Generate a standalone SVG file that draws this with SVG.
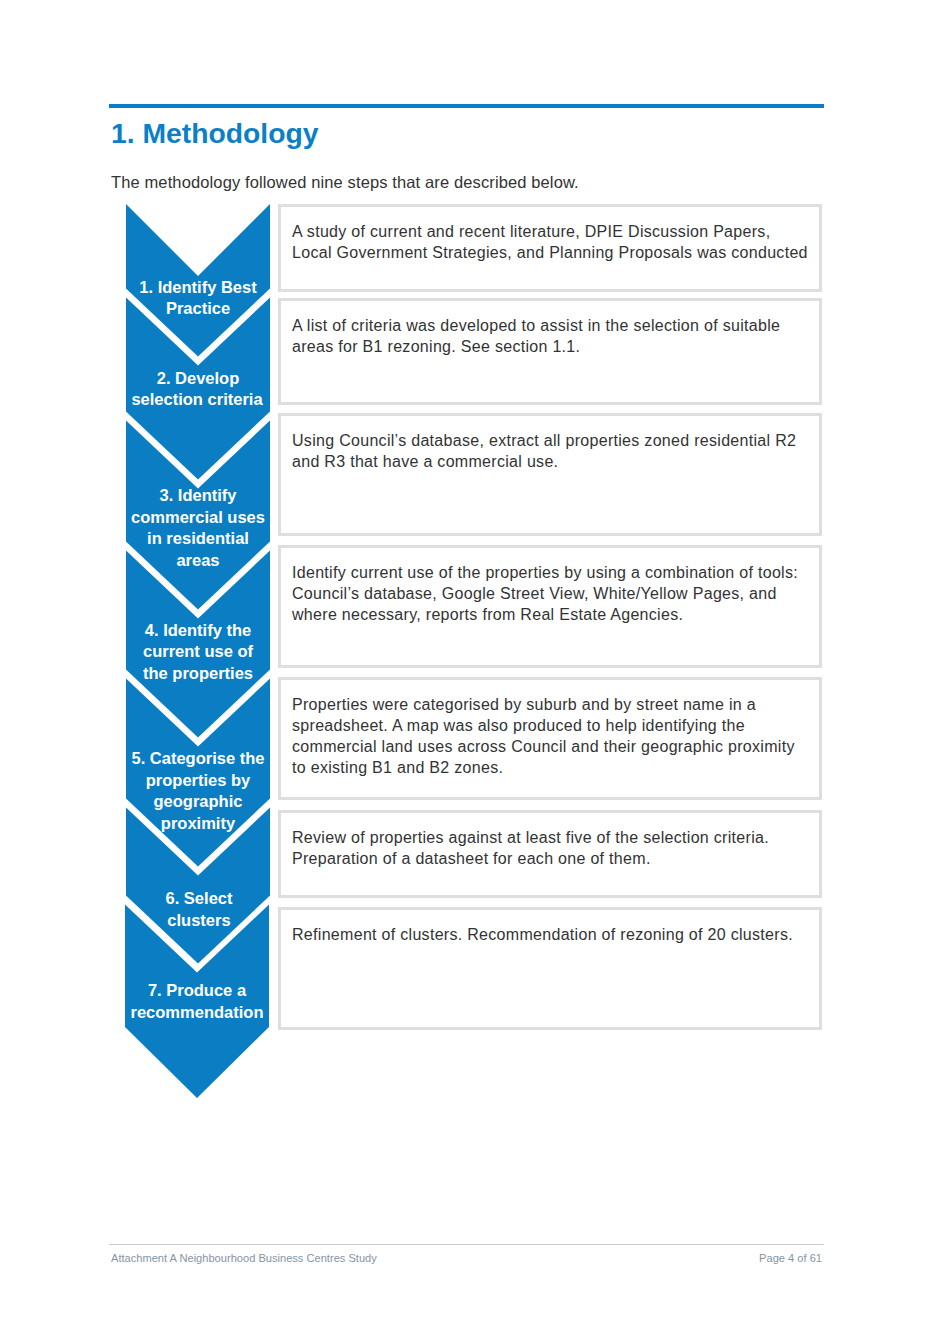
<svg xmlns="http://www.w3.org/2000/svg" width="933" height="1319" viewBox="0 0 933 1319">
<style>
.chev{fill:#0a7dc3}
.lbl{font-family:"Liberation Sans",Arial,sans-serif;font-weight:bold;font-size:16.5px;fill:#ffffff;text-anchor:middle}
.box{fill:#ffffff;stroke:#dedede;stroke-width:3}
.txt{font-family:"Liberation Sans",Arial,sans-serif;font-size:16px;letter-spacing:0.3px;fill:#333333}
.foot{font-family:"Liberation Sans",Arial,sans-serif;font-size:11.1px;fill:#8595a5}
</style>
<rect width="933" height="1319" fill="#ffffff"/>
<rect x="109" y="104" width="715" height="4" fill="#0a7dc8"/>
<text x="111" y="143" font-family="'Liberation Sans',Arial,sans-serif" font-weight="bold" font-size="28.3" fill="#0b7fc7">1. Methodology</text>
<text x="111" y="188" font-family="'Liberation Sans',Arial,sans-serif" font-size="16.5" letter-spacing="0.12" fill="#333333">The methodology followed nine steps that are described below.</text>

<g id="step1">
<polygon class="chev" points="126,204 198,276 270,204 270,288.5 198,356.5 126,288.5"/>
<text class="lbl" x="198" y="293">1. Identify Best</text>
<text class="lbl" x="198" y="314">Practice</text>
</g>
<g id="step2">
<polygon class="chev" points="126,297.5 198,365.5 270,297.5 270,411.5 198,479.5 126,411.5"/>
<text class="lbl" x="198" y="384">2. Develop</text>
<text class="lbl" x="197" y="405">selection criteria</text>
</g>
<g id="step3">
<polygon class="chev" points="126,420.5 198,488.5 270,420.5 270,541.5 198,609.5 126,541.5"/>
<text class="lbl" x="198" y="501">3. Identify</text>
<text class="lbl" x="198" y="523">commercial uses</text>
<text class="lbl" x="198" y="544">in residential</text>
<text class="lbl" x="198" y="566">areas</text>
</g>
<g id="step4">
<polygon class="chev" points="126,550.5 198,618.5 270,550.5 270,669.5 198,737.5 126,669.5"/>
<text class="lbl" x="198" y="636">4. Identify the</text>
<text class="lbl" x="198" y="657">current use of</text>
<text class="lbl" x="198" y="679">the properties</text>
</g>
<g id="step5">
<polygon class="chev" points="126,678.5 198,746.5 270,678.5 270,798.5 198,866.5 126,798.5"/>
<text class="lbl" x="198" y="764">5. Categorise the</text>
<text class="lbl" x="198" y="786">properties by</text>
<text class="lbl" x="198" y="807">geographic</text>
<text class="lbl" x="198" y="829">proximity</text>
</g>
<g id="step6">
<polygon class="chev" points="126,807.5 198,875.5 270,807.5 270,895.5 198,963.5 126,895.5"/>
<text class="lbl" x="199" y="904">6. Select</text>
<text class="lbl" x="199" y="926">clusters</text>
</g>
<g id="step7">
<polygon class="chev" points="125,904.5 197,972.5 269,904.5 269,1027 197,1098 125,1027"/>
<text class="lbl" x="197" y="996">7. Produce a</text>
<text class="lbl" x="197" y="1018">recommendation</text>
</g>

<g id="desc1">
<rect class="box" x="279.5" y="205.5" width="541" height="85"/>
<text class="txt" x="292" y="237">A study of current and recent literature, DPIE Discussion Papers,</text>
<text class="txt" x="292" y="258">Local Government Strategies, and Planning Proposals was conducted</text>
</g>
<g id="desc2">
<rect class="box" x="279.5" y="299.5" width="541" height="104"/>
<text class="txt" x="292" y="331">A list of criteria was developed to assist in the selection of suitable</text>
<text class="txt" x="292" y="352">areas for B1 rezoning. See section 1.1.</text>
</g>
<g id="desc3">
<rect class="box" x="279.5" y="414.5" width="541" height="120"/>
<text class="txt" x="292" y="446">Using Council’s database, extract all properties zoned residential R2</text>
<text class="txt" x="292" y="467">and R3 that have a commercial use.</text>
</g>
<g id="desc4">
<rect class="box" x="279.5" y="546.5" width="541" height="120"/>
<text class="txt" x="292" y="578">Identify current use of the properties by using a combination of tools:</text>
<text class="txt" x="292" y="599">Council’s database, Google Street View, White/Yellow Pages, and</text>
<text class="txt" x="292" y="620">where necessary, reports from Real Estate Agencies.</text>
</g>
<g id="desc5">
<rect class="box" x="279.5" y="678.5" width="541" height="120"/>
<text class="txt" x="292" y="710">Properties were categorised by suburb and by street name in a</text>
<text class="txt" x="292" y="731">spreadsheet. A map was also produced to help identifying the</text>
<text class="txt" x="292" y="752">commercial land uses across Council and their geographic proximity</text>
<text class="txt" x="292" y="773">to existing B1 and B2 zones.</text>
</g>
<g id="desc6">
<rect class="box" x="279.5" y="811.5" width="541" height="85"/>
<text class="txt" x="292" y="843">Review of properties against at least five of the selection criteria.</text>
<text class="txt" x="292" y="864">Preparation of a datasheet for each one of them.</text>
</g>
<g id="desc7">
<rect class="box" x="279.5" y="908.5" width="541" height="120"/>
<text class="txt" x="292" y="940">Refinement of clusters. Recommendation of rezoning of 20 clusters.</text>
</g>

<g id="connectors"></g>

<rect x="109" y="1244" width="715" height="1" fill="#c3d0da"/>
<text class="foot" x="111" y="1262">Attachment A Neighbourhood Business Centres Study</text>
<text class="foot" x="822" y="1262" text-anchor="end">Page 4 of 61</text>
</svg>
